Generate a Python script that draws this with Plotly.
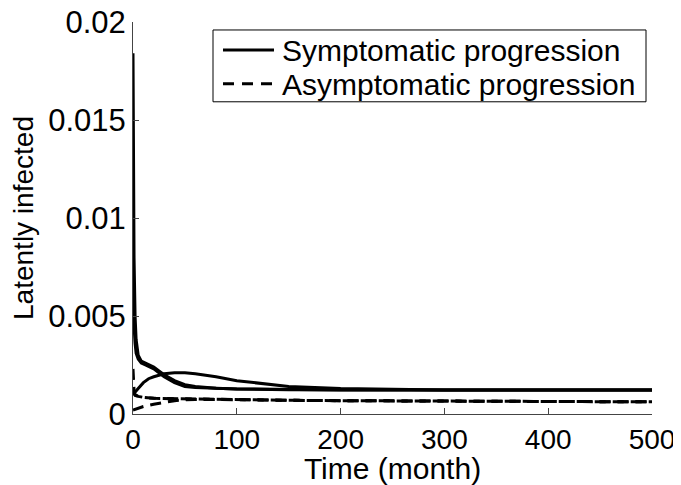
import plotly.graph_objects as go

# time samples (month)
t_a = [0, 0.5, 1, 2, 3, 5, 8, 12, 16, 20, 25, 30, 40, 50, 60, 80, 100, 150, 200, 300, 500]
sym_a = [0.0184, 0.012, 0.008, 0.0050, 0.0038, 0.0030, 0.0027, 0.0026, 0.0025, 0.0024, 0.0022,
         0.0020, 0.0017, 0.0015, 0.0014, 0.00132, 0.00128, 0.00124, 0.00123, 0.00122, 0.00122]
sym_b = [0.0072, 0.0055, 0.0045, 0.0036, 0.0031, 0.0028, 0.0026, 0.0025, 0.0024, 0.0023, 0.0021,
         0.0019, 0.0016, 0.0014, 0.00135, 0.0013, 0.00127, 0.00124, 0.00123, 0.00122, 0.00122]

t_c = [0, 2, 5, 10, 15, 20, 30, 40, 50, 60, 80, 100, 125, 150, 200, 250, 300, 500]
sym_c = [0.001, 0.0011, 0.0013, 0.0016, 0.0018, 0.0019, 0.00205, 0.0021, 0.0021, 0.00205, 0.0019,
         0.0017, 0.00155, 0.0014, 0.0013, 0.00125, 0.00123, 0.00122]

t_d = [0, 0.5, 1, 2, 5, 10, 20, 40, 60, 100, 150, 200, 300, 400, 500]
asym_a = [0.0023, 0.0016, 0.0012, 0.0010, 0.0009, 0.00085, 0.0008, 0.00078, 0.00076, 0.00072,
          0.0007, 0.00068, 0.00065, 0.00063, 0.00062]
asym_b = [0.0011, 0.00105, 0.001, 0.00095, 0.0009, 0.00085, 0.0008, 0.00078, 0.00076, 0.00072,
          0.0007, 0.00068, 0.00065, 0.00063, 0.00062]
t_e = [0, 5, 10, 20, 30, 40, 50, 60, 80, 100, 150, 200, 300, 400, 500]
asym_c = [0.0002, 0.0003, 0.00038, 0.0005, 0.0006, 0.00068, 0.00072, 0.00074, 0.00074, 0.00072,
          0.0007, 0.00068, 0.00065, 0.00063, 0.00062]

x_ticks = [0, 100, 200, 300, 400, 500]
y_ticks = [0, 0.005, 0.01, 0.015, 0.02]
y_tick_text = ["0", "0.005", "0.01", "0.015", "0.02"]
legend_labels = ["Symptomatic progression", "Asymptomatic progression"]

FONT = "Liberation Sans, Arial, sans-serif"
FS = 30
fig = go.Figure()
solid = dict(color="black", width=3)
dashed = dict(color="black", width=3, dash="11px,7px")

fig.add_trace(go.Scatter(x=t_a, y=sym_a, mode="lines", line=solid, name=legend_labels[0]))
fig.add_trace(go.Scatter(x=t_a, y=sym_b, mode="lines", line=solid, name=legend_labels[0]))
fig.add_trace(go.Scatter(x=t_c, y=sym_c, mode="lines", line=solid, name=legend_labels[0]))
fig.add_trace(go.Scatter(x=t_d, y=asym_a, mode="lines", line=dashed, name=legend_labels[1]))
fig.add_trace(go.Scatter(x=t_d, y=asym_b, mode="lines", line=dashed, name=legend_labels[1]))
fig.add_trace(go.Scatter(x=t_e, y=asym_c, mode="lines", line=dashed, name=legend_labels[1]))

# legend drawn as a box in paper coordinates (plot area on page: x 133..652 px, y 21..414 px)
def px(xp):
    return (xp - 133) / 519.0

def py(yp):
    return (414 - yp) / 393.0

shapes = [
    dict(type="rect", xref="paper", yref="paper", x0=px(213), x1=px(646), y0=py(101), y1=py(29),
         line=dict(color="black", width=1), fillcolor="white", layer="above"),
    dict(type="line", xref="paper", yref="paper", x0=px(223), x1=px(274), y0=py(49), y1=py(49),
         line=dict(color="black", width=3), layer="above"),
    dict(type="line", xref="paper", yref="paper", x0=px(223), x1=px(274), y0=py(83), y1=py(83),
         line=dict(color="black", width=3, dash="11px,8px"), layer="above"),
]
annotations = [
    dict(text=legend_labels[0], xref="paper", yref="paper", x=px(280), y=py(50),
         xanchor="left", yanchor="middle", showarrow=False, font=dict(size=FS)),
    dict(text=legend_labels[1], xref="paper", yref="paper", x=px(280), y=py(84),
         xanchor="left", yanchor="middle", showarrow=False, font=dict(size=FS)),
]

# the page body adds an 8px offset, so the figure is 8px smaller and margins shifted
fig.update_layout(
    width=673, height=477,
    margin=dict(l=125, r=29, t=14, b=71),
    paper_bgcolor="white", plot_bgcolor="white",
    font=dict(family=FONT, size=FS, color="black"),
    showlegend=False,
    shapes=shapes, annotations=annotations,
    xaxis=dict(range=[0, 500], tickvals=x_ticks, ticks="inside", ticklen=6, automargin=False,
               ticklabeloverflow="allow", tickfont=dict(size=28),
               showline=True, linecolor="#444", linewidth=1, showgrid=False, zeroline=False,
               title=dict(text="Time (month)", standoff=4, font=dict(size=30))),
    yaxis=dict(range=[0, 0.02], tickvals=y_ticks, ticktext=y_tick_text, ticks="inside", ticklen=6,
               automargin=False, ticklabeloverflow="allow", tickfont=dict(size=31),
               showline=True, linecolor="#444", linewidth=1, showgrid=False, zeroline=False,
               title=dict(text="Latently infected", standoff=6, font=dict(size=28))),
)

fig.write_html("out.html")
